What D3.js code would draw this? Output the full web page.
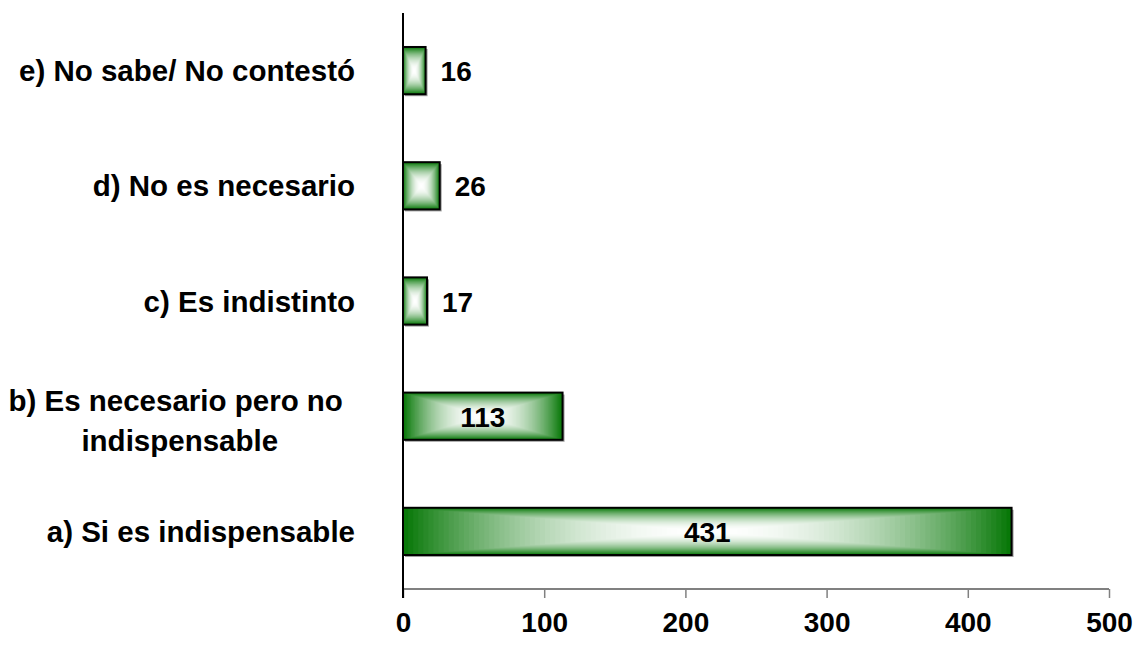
<!DOCTYPE html>
<html>
<head>
<meta charset="utf-8">
<script src="https://cdn.jsdelivr.net/npm/d3@7"></script>
<style>
  html, body { margin: 0; padding: 0; background: #fff; }
  svg { display: block; }
  text { font-family: Arial, "Liberation Sans", sans-serif; font-weight: bold; fill: #000; }
</style>
</head>
<body>
<svg id="chart" width="1135" height="648"></svg>
<script>
// Data (top to bottom as drawn)
const categories = [
  ["e) No sabe/ No contestó"],
  ["d) No es necesario"],
  ["c) Es indistinto"],
  ["b) Es necesario pero no", "indispensable"],
  ["a) Si es indispensable"]
];
const values = [16, 26, 17, 113, 431];
const tickValues = [0, 100, 200, 300, 400, 500];

const svg = d3.select("#chart");
const margin = { left: 403, right: 26, top: 13, bottom: 59 };
const W = 1135, H = 648;

const x = d3.scaleLinear().domain([0, 500]).range([margin.left, W - margin.right]);
const y = d3.scaleBand().domain(d3.range(categories.length))
  .range([margin.top, H - margin.bottom]).paddingInner(0.59).paddingOuter(0.295);

const green = "#087808";
const colorAt = d3.interpolateRgb("#ffffff", green);
const steps = 60;

// Bars with rectangular "from center" gradient built from nested rects
const bars = svg.append("g").selectAll("g.bar").data(values).join("g").attr("class", "bar");

bars.each(function(v, i) {
  const g = d3.select(this);
  const x0 = x(0), x1 = x(v), y0 = y(i), h = y.bandwidth();
  const w = x1 - x0;
  // shadow
  g.append("rect").attr("x", x0 + 2).attr("y", y0 + 2).attr("width", w).attr("height", h)
    .attr("fill", "#a0a0a0");
  for (let k = 0; k < steps; k++) {
    const t = 1 - k / steps;           // 1 at edge, ->0 at center
    const ix = (1 - t) * w / 2, iy = (1 - t) * h / 2;
    g.append("rect")
      .attr("x", x0 + ix).attr("y", y0 + iy)
      .attr("width", Math.max(0, w - 2 * ix)).attr("height", Math.max(0, h - 2 * iy))
      .attr("fill", colorAt(Math.pow(t, 2.0)));
  }
  g.append("rect").attr("x", x0).attr("y", y0).attr("width", w).attr("height", h)
    .attr("fill", "none").attr("stroke", "#000").attr("stroke-width", 2);
});

// Value labels
const fs = 28;
svg.append("g").selectAll("text").data(values).join("text")
  .attr("font-size", fs)
  .attr("dominant-baseline", "central")
  .attr("y", (d, i) => y(i) + y.bandwidth() / 2 + 1)
  .each(function(d, i) {
    const t = d3.select(this).text(d);
    const tw = this.getComputedTextLength();
    const w = x(d) - x(0);
    if (w > tw + 20) {
      t.attr("text-anchor", "middle").attr("x", (x(0) + x(d)) / 2);
    } else {
      t.attr("text-anchor", "start").attr("x", x(d) + 15);
    }
  });

// X axis
const xAxis = d3.axisBottom(x).tickValues(tickValues).tickSize(9).tickPadding(14).tickFormat(d3.format("d"));
const gx = svg.append("g").attr("transform", `translate(0,${H - margin.bottom})`).call(xAxis);
gx.select(".domain").attr("stroke", "#808080").attr("stroke-width", 2)
  .attr("d", `M${x(0)},0H${x(500)}`);
gx.selectAll(".tick line").attr("stroke", "#808080").attr("stroke-width", 1.5);
gx.selectAll(".tick text").attr("font-size", fs).attr("font-family", "Arial, 'Liberation Sans', sans-serif")
  .attr("font-weight", "bold").attr("fill", "#000").attr("dy", "0.71em");

// Y axis (vertical line, no ticks)
const yAxis = d3.axisLeft(y).tickSize(0).tickFormat("");
const gy = svg.append("g").attr("transform", `translate(${x(0)},0)`).call(yAxis);
gy.select(".domain").attr("stroke", "#000").attr("stroke-width", 2)
  .attr("d", `M0,${margin.top}V${H - margin.bottom + 9}`);

// Category labels
const lfs = 29.5;
const labelRight = 355;
const labels = svg.append("g").selectAll("text").data(categories).join("text")
  .attr("font-size", lfs);
labels.each(function(lines, i) {
  const t = d3.select(this);
  const cy = y(i) + y.bandwidth() / 2;
  const lh = 40;
  if (lines.length === 1) {
    t.append("tspan").attr("x", labelRight).attr("text-anchor", "end")
      .attr("y", cy).attr("dominant-baseline", "central").text(lines[0]);
  } else {
    // first line right-aligned (with trailing space), following lines centred on the block
    const tmp = t.append("tspan").text(lines[0] + " ");
    const maxW = this.getComputedTextLength();
    tmp.remove();
    const cx = labelRight - 8 - maxW / 2;
    lines.forEach((ln, j) => {
      t.append("tspan").attr("x", cx).attr("text-anchor", "middle")
        .attr("y", cy + 4 + (j - (lines.length - 1) / 2) * lh)
        .attr("dominant-baseline", "central").text(ln + (j === 0 ? " " : ""));
    });
  }
});
</script>
</body>
</html>
